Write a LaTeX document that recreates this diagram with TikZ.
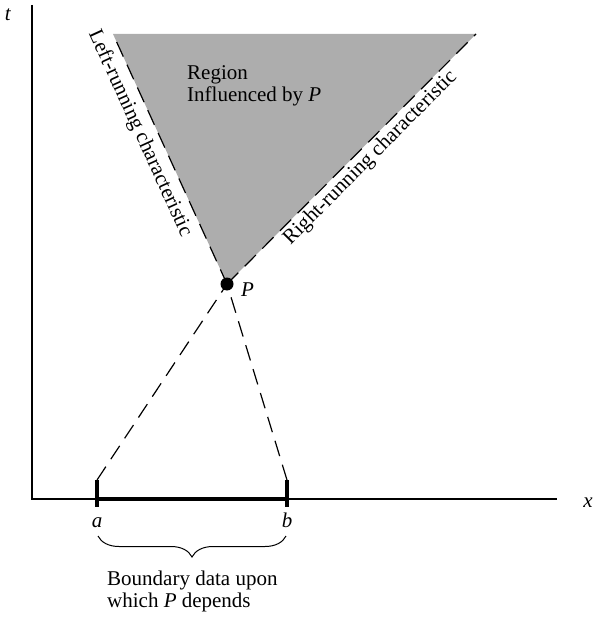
\documentclass[tikz,border=0pt]{standalone}
\usepackage{fontspec}
\setmainfont{Liberation Serif}
\usetikzlibrary{decorations.pathreplacing}
\begin{document}
\begin{tikzpicture}[x=1pt,y=-1pt,
  axisline/.style={line width=1.1pt},
  charline/.style={line width=1.2pt, dash pattern=on 16pt off 9pt},
  databar/.style={line width=3.5pt},
  tickmark/.style={line width=4pt},
  lbl/.style={font=\fontsize{21}{23}\selectfont, inner sep=0pt},
  region/.style={fill=black!32},
  dotP/.style={circle, fill=black, inner sep=0pt, minimum size=13pt}]
\useasboundingbox (0,0) rectangle (594,620);
% coordinates
\coordinate (O) at (32,499);
\coordinate (ttop) at (32,5);
\coordinate (xend) at (557,499);
\coordinate (TL) at (113,34);
\coordinate (TR) at (476,34);
\coordinate (A) at (97,499);
\coordinate (B) at (287,499);
\coordinate (Atop) at (97,480);
\coordinate (Abot) at (97,507);
\coordinate (Btop) at (287,480);
\coordinate (Bbot) at (287,507);
\coordinate (Pc) at (227,284);
% shaded region
\fill[region] (TL) -- (TR) -- (Pc) -- cycle;
% axes
\draw[axisline] (ttop) -- (O) -- (xend);
% boundary segment
\draw[databar] (A) -- (B);
\draw[tickmark] (Atop) -- (Abot);
\draw[tickmark] (Btop) -- (Bbot);
% characteristics
\draw[charline] (Atop) -- (Pc);
\draw[charline] (Pc) -- (TR);
\draw[charline] (Btop) -- (Pc);
\draw[charline] (Pc) -- (TL);
\path (TL) -- (Pc) node[lbl, sloped, pos=0.37, below=7pt] (leftlbl) {Left-running characteristic};
\path (Pc) -- (TR) node[lbl, sloped, pos=0.54, below=3pt] (rightlbl) {Right-running characteristic};
% point P
\node[dotP] (P) at (Pc) {};
\node[lbl, anchor=base west] (Plbl) at (241,296) {\textit{P}};
% axis labels
\node[lbl] (tlbl) at (8,15) {\textit{t}};
\node[lbl] (xlbl) at (588,503) {\textit{x}};
\node[lbl, anchor=base] (albl) at (97,527) {\textit{a}};
\node[lbl, anchor=base] (blbl) at (287,527) {\textit{b}};
% region text
\node[lbl, anchor=base west] (reg1) at (187,80) {Region};
\node[lbl, anchor=base west] (reg2) at (187,102) {Influenced by \textit{P}};
% brace
\draw[decorate, decoration={brace, mirror, amplitude=21pt}, line width=1pt] (98,536) -- (286,536);
\node[lbl, anchor=base west] (bd1) at (107,585) {Boundary data upon};
\node[lbl, anchor=base west] (bd2) at (107,607) {which \textit{P} depends};
\end{tikzpicture}
\end{document}
